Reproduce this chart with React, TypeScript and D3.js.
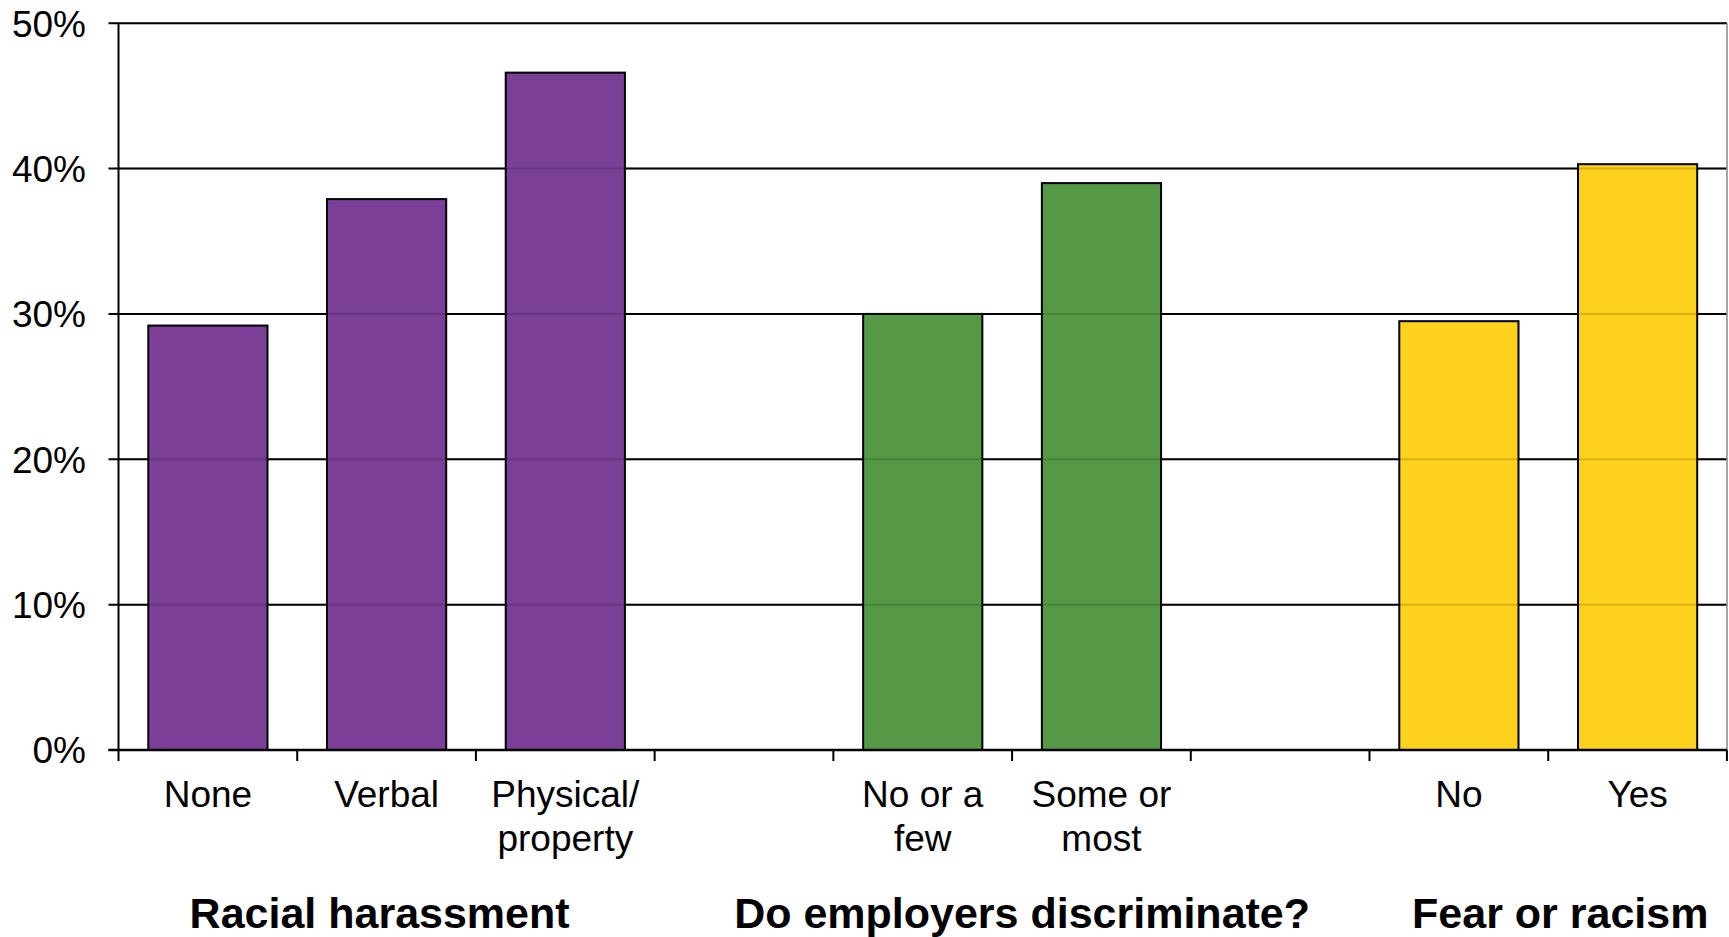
import React from "react";
import * as d3 from "d3";

const categoryLines: string[][] = [
  ["None"],
  ["Verbal"],
  ["Physical/", "property"],
  [],
  ["No or a", "few"],
  ["Some or", "most"],
  [],
  ["No"],
  ["Yes"],
];
const values: (number | null)[] = [29.2, 37.9, 46.6, null, 30.0, 39.0, null, 29.5, 40.3];
const barColors: (string | null)[] = [
  "#7B3F98", "#7B3F98", "#7B3F98", null,
  "#559946", "#559946", null,
  "#FDD11C", "#FDD11C",
];
const groupNames = ["Racial harassment", "Do employers discriminate?", "Fear or racism"];
const groupFirst = [0, 4, 7];
const groupLast = [2, 5, 8];
const groupShift = [-7, 10, 12];
const yTicks = [0, 10, 20, 30, 40, 50];

const W = 1729;
const H = 937;
const left = 118.5;
const right = 1727;
const top = 23.2;
const bottom = 750;

export default function App() {
  const idx = categoryLines.map((_, i) => String(i));
  const x = d3.scaleBand<string>().domain(idx).range([left, right]).paddingInner(0.333).paddingOuter(0.1667);
  const step = x.step();
  const y = d3.scaleLinear().domain([0, 50]).range([bottom, top]);
  const font = "'Liberation Sans', Arial, sans-serif";
  const slotEdges = d3.range(categoryLines.length + 1).map((i) => left + i * step);

  return (
    <svg width={W} height={H} style={{ position: "absolute", left: 0, top: 0, background: "#fff" }} fontFamily={font}>
      {yTicks.map((t) => (
        <line key={"g" + t} x1={left - 10} x2={right} y1={y(t)} y2={y(t)} stroke="#000" strokeWidth={2} />
      ))}
      {values.map((v, i) =>
        v == null ? null : (
          <rect
            key={"b" + i}
            x={x(String(i))!}
            y={y(v)}
            width={x.bandwidth()}
            height={y(0) - y(v)}
            fill={barColors[i]!}
            stroke="#000"
            strokeWidth={2}
          />
        )
      )}
      {yTicks.slice(1).map((t) => (
        <line key={"go" + t} x1={left} x2={right} y1={y(t)} y2={y(t)} stroke="#000" strokeWidth={2} opacity={0.15} />
      ))}
      <line x1={left} x2={left} y1={top} y2={bottom} stroke="#000" strokeWidth={2} />
      <line x1={right} x2={right} y1={top} y2={bottom} stroke="#888" strokeWidth={1.5} />
      <line x1={left - 10} x2={right} y1={bottom} y2={bottom} stroke="#000" strokeWidth={2.5} />
      {slotEdges.map((sx, i) => (
        <line key={"t" + i} x1={sx} x2={sx} y1={bottom} y2={bottom + 11} stroke="#000" strokeWidth={2} />
      ))}
      {yTicks.map((t) => (
        <text key={"yl" + t} x={86} y={y(t)} dy="0.36em" textAnchor="end" fontSize={37} fill="#000">
          {t + "%"}
        </text>
      ))}
      {categoryLines.map((lines, i) => (
        <text key={"xl" + i} x={x(String(i))! + x.bandwidth() / 2} y={807} textAnchor="middle" fontSize={37} fill="#000">
          {lines.map((ln, j) => (
            <tspan key={j} x={x(String(i))! + x.bandwidth() / 2} dy={j === 0 ? 0 : 44}>
              {ln}
            </tspan>
          ))}
        </text>
      ))}
      {groupNames.map((g, k) => {
        const cx = (x(String(groupFirst[k]))! + x(String(groupLast[k]))! + x.bandwidth()) / 2 + groupShift[k];
        return (
          <text key={"gl" + k} x={cx} y={928} textAnchor="middle" fontSize={43} fontWeight="bold" fill="#000">
            {g}
          </text>
        );
      })}
    </svg>
  );
}
